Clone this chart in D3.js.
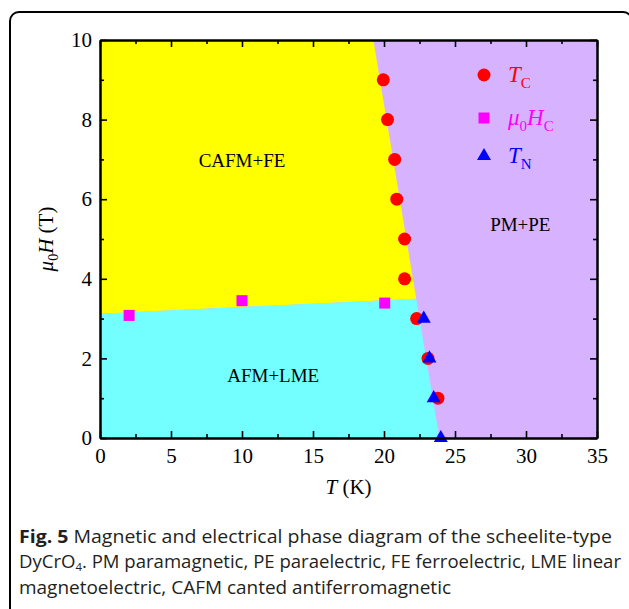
<!DOCTYPE html>
<meta charset="utf-8">
<style>
body { margin: 0; background: #fff; }
.tick text { font-family: "Liberation Serif", serif; font-size: 21px; fill: #000; }
.label { font-family: "Liberation Serif", serif; }
.caption { font-family: "Open Sans", sans-serif; font-size: 18px; fill: #231f20; }
</style>
<body>
<script src="https://d3js.org/d3.v7.min.js"></script>
<script>

// data
var tcT = [19.95, 20.25, 20.75, 20.9, 21.45, 21.45, 22.3, 23.1, 23.8];
var tcH = [9, 8, 7, 6, 5, 4, 3, 2, 1];
var hcT = [2.05, 10.0, 20.05];
var hcH = [3.08, 3.45, 3.39];
var tnT = [22.8, 23.2, 23.5, 24.0];
var tnH = [3, 2, 1, 0];

// phase boundaries
var pmBoundary = [[19.25, 10], [22.27, 3.5], [23.9, 0]];
var fieldBoundary = [[0, 3.12], [22.27, 3.5]];

var xTicks = [0, 5, 10, 15, 20, 25, 30, 35];
var yTicks = [0, 2, 4, 6, 8, 10];

var margin = {top: 40, right: 32, bottom: 171, left: 100},
    width = 629 - margin.left - margin.right,
    height = 609 - margin.top - margin.bottom;

var svg = d3.select("body").append("svg")
    .attr("width", 629)
    .attr("height", 609);

// outer rounded frame
svg.append("rect")
    .attr("x", 10).attr("y", 12)
    .attr("width", 622).attr("height", 610)
    .attr("rx", 9).attr("ry", 9)
    .attr("fill", "none")
    .attr("stroke", "#000")
    .attr("stroke-width", 2);

var g = svg.append("g")
    .attr("transform", "translate(" + margin.left + "," + margin.top + ")");

var x = d3.scaleLinear().domain([0, 35]).range([0, width]);
var y = d3.scaleLinear().domain([0, 10]).range([height, 0]);

var line = d3.line().x(function(d) { return x(d[0]); }).y(function(d) { return y(d[1]); });

// PM+PE background
g.append("rect")
    .attr("width", width).attr("height", height)
    .attr("fill", "#d7b3ff");

// CAFM+FE region
var yellowPts = [[0, 10]].concat(pmBoundary.slice(0, 2), [fieldBoundary[0]]);
g.append("path").attr("d", line(yellowPts) + "Z").attr("fill", "#ffff00");

// AFM+LME region
var cyanPts = [[0, 0], fieldBoundary[0], fieldBoundary[1], pmBoundary[2]];
g.append("path").attr("d", line(cyanPts) + "Z").attr("fill", "#73ffff");

// region labels
g.append("text").attr("class", "label").attr("x", x(10)).attr("y", y(6.8))
    .attr("text-anchor", "middle").attr("font-size", 19).text("CAFM+FE");
g.append("text").attr("class", "label").attr("x", x(29.6)).attr("y", y(5.2))
    .attr("text-anchor", "middle").attr("font-size", 19).text("PM+PE");
g.append("text").attr("class", "label").attr("x", x(12.2)).attr("y", y(1.4))
    .attr("text-anchor", "middle").attr("font-size", 19).text("AFM+LME");

// markers
var tc = tcT.map(function(t, i) { return [t, tcH[i]]; });
var hc = hcT.map(function(t, i) { return [t, hcH[i]]; });
var tn = tnT.map(function(t, i) { return [t, tnH[i]]; });

g.selectAll(".tc").data(tc).enter().append("circle")
    .attr("class", "tc")
    .attr("cx", function(d) { return x(d[0]); })
    .attr("cy", function(d) { return y(d[1]); })
    .attr("r", 6.5).attr("fill", "#ff0000");

g.selectAll(".hc").data(hc).enter().append("rect")
    .attr("class", "hc")
    .attr("x", function(d) { return x(d[0]) - 5.5; })
    .attr("y", function(d) { return y(d[1]) - 5.5; })
    .attr("width", 11).attr("height", 11).attr("fill", "#ff00ff");

var tri = d3.symbol().type(d3.symbolTriangle).size(85);
g.selectAll(".tn").data(tn).enter().append("path")
    .attr("class", "tn")
    .attr("transform", function(d) { return "translate(" + x(d[0]) + "," + y(d[1]) + ")"; })
    .attr("d", tri).attr("fill", "#0000ff");

// axes, ticks pointing inward
var xMinor = d3.range(2.5, 35, 5);
var yMinor = d3.range(1, 10, 2);

function styleAxis(sel) {
    sel.select(".domain").attr("stroke-width", 2);
    sel.selectAll(".tick line").attr("stroke-width", 1.6);
}

g.append("g").attr("transform", "translate(0," + height + ")")
    .call(d3.axisBottom(x).tickValues(xTicks).tickSize(-7).tickSizeOuter(0).tickPadding(10))
    .call(styleAxis);
g.append("g").attr("transform", "translate(0," + height + ")")
    .call(d3.axisBottom(x).tickValues(xMinor).tickSize(-4).tickSizeOuter(0).tickFormat(""))
    .call(styleAxis);
g.append("g")
    .call(d3.axisTop(x).tickValues(xTicks).tickSize(-7).tickSizeOuter(0).tickFormat(""))
    .call(styleAxis);
g.append("g")
    .call(d3.axisTop(x).tickValues(xMinor).tickSize(-4).tickSizeOuter(0).tickFormat(""))
    .call(styleAxis);

g.append("g")
    .call(d3.axisLeft(y).tickValues(yTicks).tickSize(-7).tickSizeOuter(0).tickPadding(8))
    .call(styleAxis);
g.append("g")
    .call(d3.axisLeft(y).tickValues(yMinor).tickSize(-4).tickSizeOuter(0).tickFormat(""))
    .call(styleAxis);
g.append("g").attr("transform", "translate(" + width + ",0)")
    .call(d3.axisRight(y).tickValues(yTicks).tickSize(-7).tickSizeOuter(0).tickFormat(""))
    .call(styleAxis);
g.append("g").attr("transform", "translate(" + width + ",0)")
    .call(d3.axisRight(y).tickValues(yMinor).tickSize(-4).tickSizeOuter(0).tickFormat(""))
    .call(styleAxis);

// axis titles
var xt = g.append("text").attr("class", "label")
    .attr("x", width / 2).attr("y", height + 56)
    .attr("text-anchor", "middle").attr("font-size", 21);
xt.append("tspan").attr("font-style", "italic").text("T");
xt.append("tspan").text(" (K)");

var yt = g.append("text").attr("class", "label")
    .attr("transform", "translate(-47," + (height / 2) + ") rotate(-90)")
    .attr("text-anchor", "middle").attr("font-size", 21);
yt.append("tspan").attr("font-style", "italic").text("\u03bc");
yt.append("tspan").attr("font-size", 14).attr("dy", 5).text("0");
yt.append("tspan").attr("font-style", "italic").attr("dy", -5).text("H");
yt.append("tspan").text(" (T)");

// legend
var leg = g.append("g").attr("transform", "translate(" + (484 - margin.left) + ",0)");
leg.append("circle").attr("cx", 0).attr("cy", 75 - margin.top).attr("r", 6.5).attr("fill", "#ff0000");
leg.append("rect").attr("x", -5.5).attr("y", 118 - margin.top - 5.5).attr("width", 11).attr("height", 11).attr("fill", "#ff00ff");
leg.append("path").attr("transform", "translate(0," + (156 - margin.top) + ")").attr("d", tri).attr("fill", "#0000ff");

function legendLabel(yPos, main, sub, color, pre) {
    var t = leg.append("text").attr("class", "label")
        .attr("x", 24).attr("y", yPos - margin.top + 7)
        .attr("font-size", 23).attr("fill", color);
    if (pre) t.append("tspan").attr("font-style", "italic").text(pre);
    if (pre) t.append("tspan").attr("font-size", 15).attr("dy", 6).text("0");
    t.append("tspan").attr("font-style", "italic").attr("dy", pre ? -6 : 0).text(main);
    t.append("tspan").attr("font-size", 15).attr("dy", 6).text(sub);
}
legendLabel(75, "T", "C", "#ff0000");
legendLabel(118, "H", "C", "#ff00ff", "\u03bc");
legendLabel(156, "T", "N", "#0000ff");

// caption
var c1 = svg.append("text").attr("class", "caption").attr("x", 19).attr("y", 543)
    .attr("textLength", 593).attr("lengthAdjust", "spacingAndGlyphs");
c1.append("tspan").attr("font-weight", "bold").text("Fig. 5");
c1.append("tspan").text(" Magnetic and electrical phase diagram of the scheelite-type");

var c2 = svg.append("text").attr("class", "caption").attr("x", 19).attr("y", 568)
    .attr("textLength", 602).attr("lengthAdjust", "spacingAndGlyphs");
c2.append("tspan").text("DyCrO");
c2.append("tspan").attr("font-size", 11).attr("dy", 3).text("4");
c2.append("tspan").attr("dy", -3).text(". PM paramagnetic, PE paraelectric, FE ferroelectric, LME linear");

svg.append("text").attr("class", "caption").attr("x", 19).attr("y", 594)
    .attr("textLength", 432).attr("lengthAdjust", "spacingAndGlyphs")
    .text("magnetoelectric, CAFM canted antiferromagnetic");

</script>
</body>
